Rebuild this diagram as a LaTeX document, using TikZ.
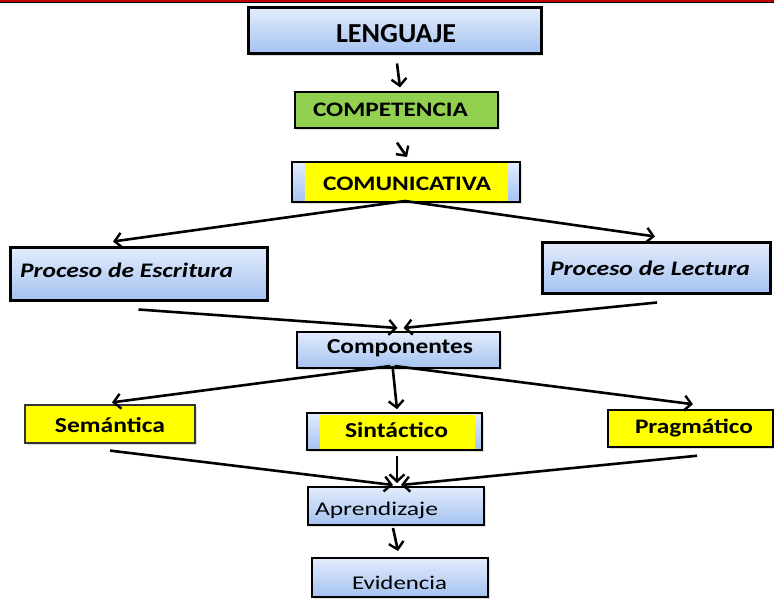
\documentclass[tikz,border=0pt]{standalone}
\usepackage{graphicx}
\usepackage{fontspec}
\setmainfont{Carlito}
\usetikzlibrary{arrows.meta,shadows}
\definecolor{bluetop}{HTML}{E3ECFC}
\definecolor{bluebot}{HTML}{A4C2F0}
\definecolor{grn}{HTML}{92D050}
\definecolor{yel}{HTML}{FFFF00}
\definecolor{redline}{HTML}{C00000}
\newcommand{\fitt}[3]{\resizebox{#1pt}{#2pt}{#3}}
\tikzset{
  basebox/.style={inner sep=0pt, drop shadow={opacity=0.25,shadow xshift=2pt,shadow yshift=-2pt}},
  bluebox/.style={basebox, draw=black, top color=bluetop, bottom color=bluebot},
  greenbox/.style={basebox, draw=black, fill=grn, line width=1.2pt},
  yellowbox/.style={basebox, draw=black!80, fill=yel, line width=1.2pt},
  txt/.style={inner sep=0pt, outer sep=0pt, anchor=base west},
  conn/.style={draw=black, line width=2.6pt, -{Straight Barb[length=7pt,width=15pt,line width=2.4pt]}}
}
\begin{document}
\begin{tikzpicture}[x=1pt,y=-1pt]
\useasboundingbox (0,0) rectangle (774,599);
\fill[redline] (0,0) rectangle (774,2.2);
\draw[black, line width=0.8pt] (0,2.6) -- (774,2.6);

% boxes
\node[bluebox, line width=3pt, minimum width=293pt, minimum height=46pt] (len) at (394.5,31) {};
\node[greenbox, minimum width=203pt, minimum height=36pt] (comp) at (396.5,110) {};
\node[bluebox, line width=2pt, minimum width=228pt, minimum height=40pt] (comu) at (406,182) {};
\fill[yel] (305,163.5) rectangle (508,200.5);
\node[bluebox, line width=3pt, minimum width=257pt, minimum height=53pt] (esc) at (138.5,273.5) {};
\node[bluebox, line width=3pt, minimum width=228pt, minimum height=51pt] (lec) at (656,267.5) {};
\node[bluebox, line width=2pt, minimum width=203pt, minimum height=36pt] (compo) at (398.5,350) {};
\node[yellowbox, minimum width=170pt, minimum height=38pt] (sem) at (110,424) {};
\node[bluebox, line width=1.5pt, minimum width=175pt, minimum height=37pt] (sin) at (394.5,431.5) {};
\fill[yel] (320,414.5) rectangle (475,448.5);
\node[yellowbox, draw=black, line width=1.5pt, minimum width=165pt, minimum height=37pt] (pra) at (690.5,428.5) {};
\node[bluebox, line width=2pt, minimum width=176pt, minimum height=38pt] (apr) at (396,506) {};
\node[bluebox, line width=2pt, minimum width=176pt, minimum height=39pt] (evi) at (400,577.5) {};

% texts
\node[txt] (tlen) at (336,43) {\fitt{120}{18}{\bfseries LENGUAJE}};
\node[txt] (tcomp) at (313,117) {\fitt{155}{13.5}{\bfseries COMPETENCIA}};
\node[txt] (tcomu) at (323,190) {\fitt{168}{13.5}{\bfseries COMUNICATIVA}};
\node[txt] (tesc) at (20,277) {\fitt{213}{14.5}{\bfseries\itshape Proceso de Escritura}};
\node[txt] (tlec) at (550,275) {\fitt{200}{14.5}{\bfseries\itshape Proceso de Lectura}};
\node[txt] (tcompo) at (327,353) {\fitt{146}{14}{\bfseries Componentes}};
\node[txt] (tsem) at (55,432) {\fitt{110}{15}{\bfseries Semántica}};
\node[txt] (tsin) at (345,437) {\fitt{103}{15}{\bfseries Sintáctico}};
\node[txt] (tpra) at (635,433) {\fitt{118}{14.5}{\bfseries Pragmático}};
\node[txt] (tapr) at (315,515) {\fitt{123}{13.5}{Aprendizaje}};
\node[txt] (tevi) at (352,589) {\fitt{95}{13.5}{Evidencia}};

% connectors
\draw[conn] ([xshift=2.5pt,yshift=-8pt]len.south) -- ([xshift=3.5pt,yshift=4pt]comp.north);
\draw[conn] ([xshift=0.5pt,yshift=-14pt]comp.south) -- ([xshift=1pt,yshift=4pt]comu.north);
\draw[conn] ([xshift=-1pt,yshift=2pt]comu.south) -- ([xshift=-25.5pt,yshift=4pt]esc.north);
\draw[conn] ([xshift=-1pt,yshift=2pt]comu.south) -- ([xshift=-1pt,yshift=4pt]lec.north);
\draw[conn] ([yshift=-8pt]esc.south) -- ([xshift=-1pt,yshift=3pt]compo.north);
\draw[conn] ([xshift=1pt,yshift=-8pt]lec.south) -- ([xshift=5pt,yshift=3pt]compo.north);
\draw[conn] ([xshift=-8pt,yshift=3pt]compo.south) -- ([xshift=2pt,yshift=2pt]sem.north);
\draw[conn] ([xshift=-6pt,yshift=3pt]compo.south) -- ([xshift=2.5pt,yshift=3pt]sin.north);
\draw[conn] ([xshift=-4pt,yshift=3pt]compo.south) -- ([xshift=2.5pt,yshift=5pt]pra.north);
\draw[conn] ([yshift=-7pt]sem.south) -- ([xshift=-3pt,yshift=1pt]apr.north);
\draw[conn] ([xshift=2.5pt,yshift=-5pt]sin.south) -- ([xshift=1pt,yshift=3pt]apr.north);
\draw[conn] ([xshift=6.5pt,yshift=-8pt]pra.south) -- ([xshift=5pt,yshift=1pt]apr.north);
\draw[conn] ([xshift=-3pt,yshift=-2pt]apr.south) -- ([xshift=-2pt,yshift=6pt]evi.north);
\end{tikzpicture}
\end{document}
